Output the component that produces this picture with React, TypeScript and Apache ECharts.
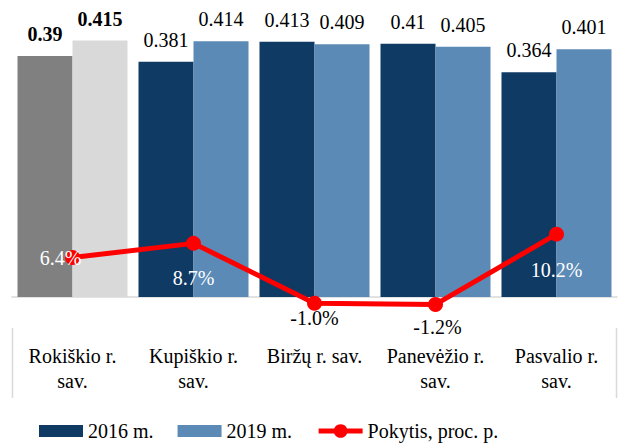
import React, { useEffect, useRef } from "react";
import * as echarts from "echarts";

const categories = ["Rokiškio r. sav.", "Kupiškio r. sav.", "Biržų r. sav.", "Panevėžio r. sav.", "Pasvalio r. sav."];
const values2016 = [0.39, 0.381, 0.413, 0.41, 0.364];
const values2019 = [0.415, 0.414, 0.409, 0.405, 0.401];
const changePct = [6.4, 8.7, -1.0, -1.2, 10.2];
const seriesNames = ["2016 m.", "2019 m.", "Pokytis, proc. p."];

const FONT = "Liberation Serif";
const C2016 = "#0e3a64";
const C2019 = "#5b8ab6";
const GRAY_DARK = "#808080";
const GRAY_LIGHT = "#d9d9d9";
const BAR_ICON = "path://M0,0H44V12H0Z";

// label styling for the line points (kept separate from the data)
const lineLabelOffsets = [[-12, 0], [0, 35], [0, 15], [2, 23], [0, 36]];
const lineLabelColors = ["#ffffff", "#ffffff", "#000000", "#000000", "#ffffff"];

let measureCtx: CanvasRenderingContext2D | null = null;
function textWidth(s: string): number {
  if (!measureCtx) {
    measureCtx = document.createElement("canvas").getContext("2d");
  }
  if (!measureCtx) return s.length * 9;
  measureCtx.font = `20px ${FONT}`;
  return measureCtx.measureText(s).width;
}

// wrap a category name before its last word when it is wider than the slot
function wrapLabel(name: string): string {
  if (textWidth(name) <= 112) return name;
  const k = name.lastIndexOf(" ");
  return k > 0 ? name.slice(0, k) + "\n" + name.slice(k + 1) : name;
}

export default function App() {
  const ref = useRef<HTMLDivElement>(null);
  useEffect(() => {
    if (!ref.current) return;
    const chart = echarts.init(ref.current, null, { renderer: "svg" });
    const barItem = (v: number, i: number, grayColor: string) =>
      i === 0
        ? { value: v, itemStyle: { color: grayColor }, label: { fontWeight: "bold" } }
        : { value: v };
    chart.setOption({
      animation: false,
      textStyle: { fontFamily: FONT },
      grid: { left: 12, right: 5, top: 19, bottom: 149, containLabel: false },
      legend: {
        left: 34,
        top: 416,
        itemWidth: 44,
        itemHeight: 17,
        itemGap: 24,
        symbolKeepAspect: true,
        lineStyle: { width: 5 },
        textStyle: { fontFamily: FONT, fontSize: 20, color: "#000" },
        data: [
          { name: seriesNames[0], icon: BAR_ICON },
          { name: seriesNames[1], icon: BAR_ICON },
          { name: seriesNames[2] },
        ],
      },
      xAxis: {
        type: "category",
        data: categories,
        axisLine: { show: true, lineStyle: { color: GRAY_LIGHT, width: 1.5 } },
        axisTick: { show: false },
        axisLabel: {
          interval: 0,
          margin: 46,
          fontFamily: FONT,
          fontSize: 20,
          lineHeight: 25,
          color: "#000",
          formatter: (v: string) => wrapLabel(v),
        },
      },
      yAxis: [
        { type: "value", min: 0, max: 0.45, show: false, splitLine: { show: false } },
        { type: "value", min: 0, max: 45.1, show: false, splitLine: { show: false } },
      ],
      series: [
        {
          name: seriesNames[0],
          type: "bar",
          barWidth: 55,
          barGap: "0%",
          itemStyle: { color: C2016 },
          data: values2016.map((v, i) => barItem(v, i, GRAY_DARK)),
          label: { show: true, position: "top", distance: 12, fontFamily: FONT, fontSize: 20, color: "#000" },
        },
        {
          name: seriesNames[1],
          type: "bar",
          barWidth: 55,
          barGap: "0%",
          itemStyle: { color: C2019 },
          data: values2019.map((v, i) => barItem(v, i, GRAY_LIGHT)),
          label: { show: true, position: "top", distance: 12, fontFamily: FONT, fontSize: 20, color: "#000" },
        },
        {
          name: seriesNames[2],
          type: "line",
          yAxisIndex: 1,
          clip: false,
          z: 5,
          symbol: "circle",
          symbolSize: 15,
          itemStyle: { color: "#ff0000" },
          lineStyle: { color: "#ff0000", width: 5 },
          data: changePct.map((v, i) => ({
            value: v,
            label: { offset: lineLabelOffsets[i], color: lineLabelColors[i] },
          })),
          label: {
            show: true,
            position: "inside",
            fontFamily: FONT,
            fontSize: 20,
            formatter: (p: any) => `${Number(p.value).toFixed(1)}%`,
          },
        },
      ],
      graphic: [
        { type: "line", shape: { x1: 12.5, y1: 328, x2: 12.5, y2: 398 }, style: { stroke: GRAY_LIGHT, lineWidth: 1.5 } },
        { type: "line", shape: { x1: 616.5, y1: 328, x2: 616.5, y2: 398 }, style: { stroke: GRAY_LIGHT, lineWidth: 1.5 } },
      ],
    });
    return () => chart.dispose();
  }, []);
  return <div ref={ref} style={{ width: 622, height: 446, position: "absolute", left: 0, top: 0 }} />;
}
